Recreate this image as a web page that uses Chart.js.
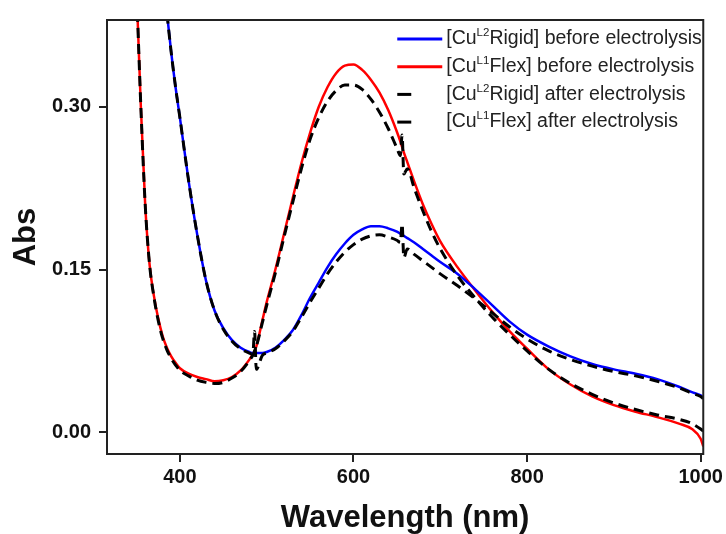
<!DOCTYPE html>
<html>
<head>
<meta charset="utf-8">
<script src="https://cdn.jsdelivr.net/npm/chart.js@4.4.1/dist/chart.umd.min.js"></script>
<style>
  html, body { margin: 0; padding: 0; background: #fff; }
  canvas { display: block; }
</style>
</head>
<body>
<canvas id="uvChart" width="726" height="534"></canvas>
<script>
// Wavelength grid (nm), shared by all four spectra
const wavelengths = [345, 350, 355, 360, 365, 370, 375, 380, 385, 390, 395, 400, 410, 420, 430, 440, 450, 460, 470, 480,
  484, 486, 488, 495, 500, 510, 520, 530, 540, 550, 560, 570, 580, 590, 600, 610, 620, 630, 640, 650,
  654, 656, 658, 662, 670, 680, 690, 700, 720, 740, 760, 780, 800, 825, 850, 875, 900, 925, 950, 975,
  990, 1000, 1003];

// Absorbance
const rigidBefore = [null, null, null, null, null, null, null, 0.43, 0.387, 0.35, 0.318, 0.290, 0.232, 0.182, 0.140, 0.112, 0.096, 0.085, 0.078, 0.074,
  0.073, 0.073, 0.073, 0.073, 0.074, 0.078, 0.085, 0.094, 0.108, 0.124, 0.138, 0.152, 0.164, 0.174, 0.182, 0.187, 0.190, 0.190, 0.188, 0.185,
  0.183, 0.182, 0.181, 0.179, 0.175, 0.169, 0.163, 0.157, 0.146, 0.132, 0.117, 0.102, 0.090, 0.079, 0.070, 0.063, 0.058, 0.054, 0.049, 0.042,
  0.037, 0.034, 0.032];

const flexBefore = [0.52, 0.41, 0.30, 0.21, 0.155, 0.126, 0.105, 0.089, 0.078, 0.070, 0.064, 0.059, 0.054, 0.051, 0.049, 0.047, 0.048, 0.051, 0.057, 0.067,
  0.072, 0.075, 0.079, 0.103, 0.120, 0.150, 0.183, 0.216, 0.248, 0.276, 0.300, 0.318, 0.331, 0.338, 0.339, 0.334, 0.325, 0.313, 0.297, 0.277,
  0.268, 0.263, 0.258, 0.249, 0.231, 0.210, 0.192, 0.176, 0.152, 0.131, 0.111, 0.093, 0.077, 0.058, 0.044, 0.033, 0.025, 0.019, 0.014, 0.008,
  0.003, -0.006, -0.013];

const rigidAfter = [null, null, null, null, null, null, null, 0.43, 0.387, 0.35, 0.318, 0.290, 0.232, 0.182, 0.140, 0.112, 0.095, 0.084, 0.077, 0.073,
  0.072, 0.093, 0.058, 0.071, 0.073, 0.077, 0.084, 0.093, 0.106, 0.120, 0.133, 0.146, 0.157, 0.166, 0.173, 0.178, 0.181, 0.182, 0.180, 0.177,
  0.175, 0.192, 0.161, 0.169, 0.164, 0.158, 0.152, 0.146, 0.135, 0.123, 0.110, 0.097, 0.086, 0.075, 0.067, 0.061, 0.056, 0.052, 0.047, 0.041,
  0.036, 0.033, 0.031];

const flexAfter = [0.52, 0.41, 0.30, 0.21, 0.155, 0.125, 0.103, 0.087, 0.076, 0.068, 0.062, 0.057, 0.052, 0.048, 0.046, 0.045, 0.046, 0.050, 0.056, 0.066,
  0.071, 0.075, 0.079, 0.101, 0.117, 0.147, 0.180, 0.212, 0.243, 0.270, 0.290, 0.305, 0.315, 0.320, 0.320, 0.316, 0.307, 0.295, 0.280, 0.262,
  0.255, 0.274, 0.238, 0.243, 0.225, 0.204, 0.185, 0.169, 0.144, 0.124, 0.106, 0.090, 0.075, 0.058, 0.045, 0.035, 0.027, 0.021, 0.016, 0.012,
  0.008, 0.003, 0.001];

// '^' marks the superscript part of each label
const seriesLabels = ['[Cu^L2^Rigid] before electrolysis', '[Cu^L1^Flex] before electrolysis',
  '[Cu^L2^Rigid] after electrolysis', '[Cu^L1^Flex] after electrolysis'];

const xTicks = [400, 600, 800, 1000];
const yTicks = [0, 0.15, 0.30];

const FONT = '"Liberation Sans", Arial, sans-serif';

function toPoints(values) {
  return wavelengths.map((w, i) => ({ x: w, y: values[i] }));
}

// frame round the plot area
const framePlugin = {
  id: 'frame',
  afterDatasetsDraw(chart) {
    const a = chart.chartArea;
    const ctx = chart.ctx;
    ctx.save();
    ctx.strokeStyle = '#222';
    ctx.lineWidth = 2;
    ctx.strokeRect(a.left, a.top, a.right - a.left, a.bottom - a.top);
    ctx.restore();
  }
};

// legend with superscripts, drawn inside the plot
const supLegendPlugin = {
  id: 'supLegend',
  afterDraw(chart) {
    const ctx = chart.ctx;
    const a = chart.chartArea;
    const x0 = a.right - 306;
    ctx.save();
    chart.data.datasets.forEach((ds, i) => {
      const y = a.top + 19 + i * 27.7;
      ctx.strokeStyle = ds.borderColor;
      ctx.lineWidth = 3;
      ctx.setLineDash(ds.borderDash ? [14, 40] : []);
      ctx.beginPath();
      ctx.moveTo(x0, y);
      ctx.lineTo(x0 + 45, y);
      ctx.stroke();
      ctx.setLineDash([]);

      let x = x0 + 49;
      ctx.fillStyle = '#222';
      ctx.textBaseline = 'middle';
      ctx.textAlign = 'left';
      ds.label.split('^').forEach((part, k) => {
        const sup = k === 1;
        ctx.font = (sup ? '11.5px ' : '19.5px ') + FONT;
        ctx.fillText(part, x, sup ? y - 6 : y);
        x += ctx.measureText(part).width;
      });
    });
    ctx.restore();
  }
};

const ctx = document.getElementById('uvChart').getContext('2d');
new Chart(ctx, {
  type: 'line',
  data: {
    datasets: [
      { label: seriesLabels[0], data: toPoints(rigidBefore), borderColor: '#0000ff', borderWidth: 2.5, order: 2 },
      { label: seriesLabels[1], data: toPoints(flexBefore), borderColor: '#ff0000', borderWidth: 2.5, order: 3 },
      { label: seriesLabels[2], data: toPoints(rigidAfter), borderColor: '#000000', borderWidth: 3, borderDash: [10, 6], order: 0 },
      { label: seriesLabels[3], data: toPoints(flexAfter), borderColor: '#000000', borderWidth: 3, borderDash: [10, 6], order: 1 }
    ]
  },
  options: {
    responsive: false,
    animation: false,
    layout: { padding: { top: 16, right: 22, left: 0, bottom: 0 } },
    elements: {
      point: { radius: 0 },
      line: { cubicInterpolationMode: 'monotone', fill: false }
    },
    plugins: {
      legend: { display: false },
      tooltip: { enabled: false }
    },
    scales: {
      x: {
        type: 'linear',
        min: 316,
        max: 1003,
        afterFit: s => { s.height = 80; },
        afterBuildTicks: s => { s.ticks = xTicks.map(v => ({ value: v })); },
        grid: { drawOnChartArea: false, drawTicks: true, tickLength: 8, color: '#222', lineWidth: 2 },
        border: { display: true, color: '#222', width: 2 },
        ticks: { color: '#111', padding: 3, maxRotation: 0, autoSkip: false, font: { family: FONT, size: 20, weight: 'bold' }, callback: v => String(v) },
        title: { display: true, text: 'Wavelength (nm)', color: '#111', padding: { top: 0, bottom: -3 }, font: { family: FONT, size: 31, weight: 'bold' } }
      },
      y: {
        min: -0.02,
        max: 0.38,
        afterFit: s => { s.width = 107; },
        afterBuildTicks: s => { s.ticks = yTicks.map(v => ({ value: v })); },
        grid: { drawOnChartArea: false, drawTicks: true, tickLength: 8, color: '#222', lineWidth: 2 },
        border: { display: true, color: '#222', width: 2 },
        ticks: { color: '#111', padding: 8, font: { family: FONT, size: 20, weight: 'bold' }, callback: v => v.toFixed(2) },
        title: { display: true, text: 'Abs', color: '#111', padding: { top: 8, bottom: 0 }, font: { family: FONT, size: 31, weight: 'bold' } }
      }
    }
  },
  plugins: [framePlugin, supLegendPlugin]
});
</script>
</body>
</html>
